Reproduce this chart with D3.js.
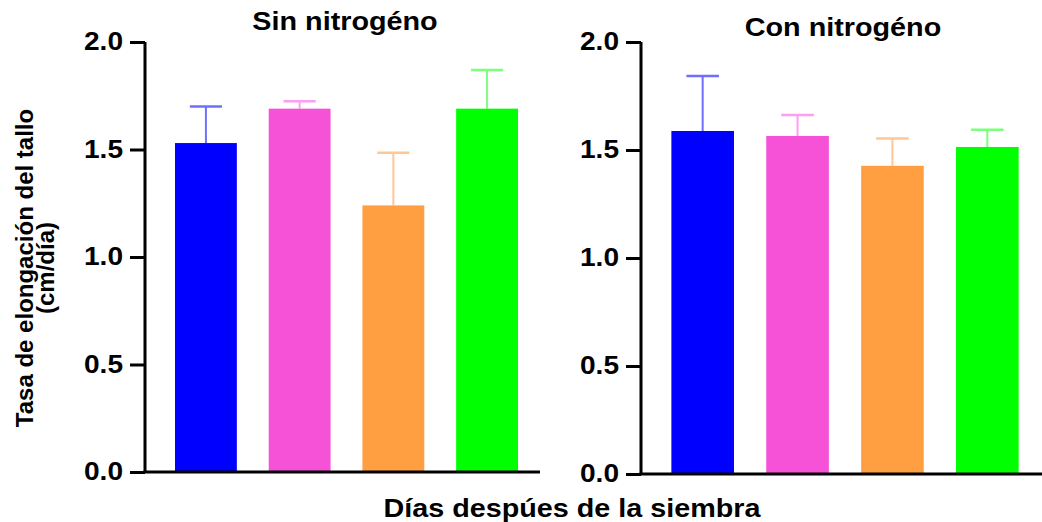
<!DOCTYPE html>
<html>
<head>
<meta charset="utf-8">
<script src="https://cdn.jsdelivr.net/npm/d3@7"></script>
<style>
  html, body { margin: 0; padding: 0; background: #fff; }
  svg { display: block; font-family: Arial, "Liberation Sans", sans-serif; }
</style>
</head>
<body>
<svg id="chart" width="1042" height="522"></svg>
<script>
// Sampling groups (same order and colours in both panels)
const categories = ["G1", "G2", "G3", "G4"];
const colors = ["#0000ff", "#f552d8", "#ff9f41", "#00ff00"];
const errColors = ["#6f6fff", "#ff9ef0", "#ffc796", "#7dff7d"];

// Mean elongation rate (cm/día) and upper error (mean + SD)
const sinMeans = [1.53, 1.69, 1.24, 1.69];
const sinUpper = [1.70, 1.725, 1.485, 1.87];
const conMeans = [1.588, 1.565, 1.427, 1.514];
const conUpper = [1.843, 1.662, 1.553, 1.594];

const yTicks = [0, 0.5, 1.0, 1.5, 2.0];
const panelTitles = ["Sin nitrogéno", "Con nitrogéno"];

// horizontal widening used for the bold labels
const WIDE = 1.15;
const WIDE_TICK = 1.08;

const svg = d3.select("#chart");

const panels = [
  { title: panelTitles[0], means: sinMeans, upper: sinUpper,
    axisX: 145, x0: 145, x1: 548, axisEnd: 540, yTop: 42, yBottom: 472, titleX: 345, titleY: 30 },
  { title: panelTitles[1], means: conMeans, upper: conUpper,
    axisX: 641, x0: 641, x1: 1049, axisEnd: 1042, yTop: 42, yBottom: 474, titleX: 843, titleY: 36 }
];

panels.forEach(p => {
  const x = d3.scaleBand().domain(categories).range([p.x0, p.x1])
    .paddingInner(0.34).paddingOuter(0.32);
  const y = d3.scaleLinear().domain([0, 2]).range([p.yBottom, p.yTop]);
  const g = svg.append("g");

  // error bars (drawn first so bars cover the lower part)
  const cap = x.bandwidth() * 0.52;
  categories.forEach((c, i) => {
    const cx = x(c) + x.bandwidth() / 2;
    g.append("line")
      .attr("x1", cx).attr("x2", cx)
      .attr("y1", y(p.means[i])).attr("y2", y(p.upper[i]))
      .attr("stroke", errColors[i]).attr("stroke-width", 2);
    g.append("line")
      .attr("x1", cx - cap / 2).attr("x2", cx + cap / 2)
      .attr("y1", y(p.upper[i])).attr("y2", y(p.upper[i]))
      .attr("stroke", errColors[i]).attr("stroke-width", 2.5);
  });

  // bars
  g.selectAll("rect.bar").data(p.means).join("rect")
    .attr("class", "bar")
    .attr("x", (d, i) => x(categories[i]))
    .attr("width", x.bandwidth())
    .attr("y", d => y(d))
    .attr("height", d => y(0) - y(d))
    .attr("fill", (d, i) => colors[i]);

  // y axis
  const yAxis = d3.axisLeft(y).tickValues(yTicks).tickFormat(d3.format(".1f"))
    .tickSize(15).tickPadding(5);
  const ag = g.append("g").attr("transform", `translate(${p.axisX},0)`).call(yAxis);
  ag.select(".domain").attr("stroke", "#000").attr("stroke-width", 3)
    .attr("d", `M0,${p.yTop}V${p.yBottom}`);
  ag.selectAll(".tick line").attr("stroke", "#000").attr("stroke-width", 3);
  ag.selectAll(".tick text").attr("fill", "#000")
    .attr("x", -22 / WIDE_TICK)
    .attr("dy", "0.3em")
    .attr("transform", `scale(${WIDE_TICK},1)`)
    .style("font-size", "26px").style("font-weight", "bold");

  // x axis baseline
  g.append("line")
    .attr("x1", p.axisX - 1.5).attr("x2", p.axisEnd)
    .attr("y1", y(0)).attr("y2", y(0))
    .attr("stroke", "#000").attr("stroke-width", 3);

  // panel title
  g.append("text")
    .attr("transform", `translate(${p.titleX},${p.titleY}) scale(${WIDE},1)`)
    .attr("text-anchor", "middle")
    .style("font-size", "25px").style("font-weight", "bold")
    .text(p.title);
});

// y axis title
const yt = svg.append("text")
  .attr("transform", "translate(33,268) rotate(-90)")
  .attr("text-anchor", "middle")
  .style("font-size", "24px").style("font-weight", "bold");
yt.append("tspan").attr("x", 0).attr("y", 0).text("Tasa de elongación del tallo");
yt.append("tspan").attr("x", 0).attr("y", 21).text("(cm/día)");

// x axis title
svg.append("text")
  .attr("transform", `translate(572,517) scale(${WIDE},1)`)
  .attr("text-anchor", "middle")
  .style("font-size", "25px").style("font-weight", "bold")
  .text("Días despúes de la siembra");
</script>
</body>
</html>
